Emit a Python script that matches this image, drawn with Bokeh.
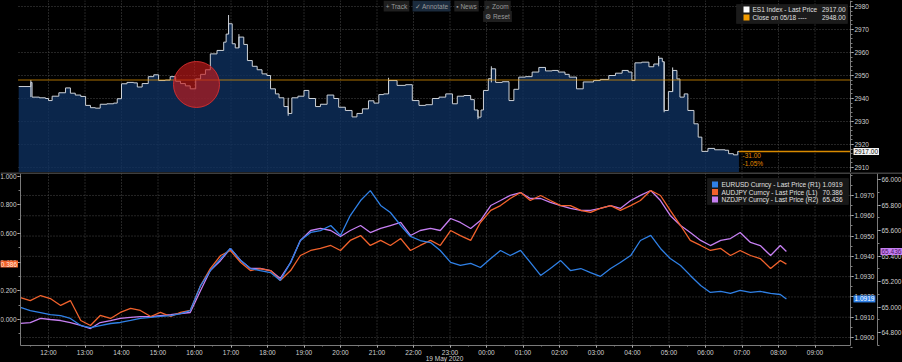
import numpy as np
import pandas as pd
from bokeh.plotting import figure
from bokeh.layouts import column
from bokeh.models import (Range1d, LinearAxis, DatetimeAxis, FixedTicker, Span, Label,
                          BoxAnnotation, DatetimeTickFormatter, CustomJSTickFormatter,
                          PrintfTickFormatter, GlobalInlineStyleSheet)
from bokeh.embed import file_html
from bokeh.resources import INLINE

# ---------------- data ----------------
es_time = ["05-18 11:11","05-18 11:31","05-18 11:33","05-18 11:45","05-18 11:55","05-18 12:00","05-18 12:06","05-18 12:17","05-18 12:28","05-18 12:36",
           "05-18 12:44","05-18 12:53","05-18 13:01","05-18 13:09","05-18 13:17","05-18 13:25","05-18 13:36","05-18 13:47","05-18 13:53","05-18 14:00",
           "05-18 14:09","05-18 14:20","05-18 14:26","05-18 14:34","05-18 14:44","05-18 14:53","05-18 15:01","05-18 15:12","05-18 15:20","05-18 15:29",
           "05-18 15:37","05-18 15:45","05-18 15:53","05-18 16:02","05-18 16:10","05-18 16:18","05-18 16:26","05-18 16:37","05-18 16:48","05-18 16:52",
           "05-18 16:56","05-18 17:02","05-18 17:07","05-18 17:13","05-18 17:21","05-18 17:27","05-18 17:35","05-18 17:43","05-18 17:51","05-18 17:59",
           "05-18 18:05","05-18 18:13","05-18 18:19","05-18 18:27","05-18 18:34","05-18 18:40","05-18 18:50","05-18 19:00","05-18 19:08","05-18 19:19",
           "05-18 19:27","05-18 19:38","05-18 19:49","05-18 19:57","05-18 20:08","05-18 20:19","05-18 20:27","05-18 20:36","05-18 20:46","05-18 20:55",
           "05-18 21:03","05-18 21:11","05-18 21:19","05-18 21:33","05-18 21:47","05-18 21:58","05-18 22:09","05-18 22:20","05-18 22:31","05-18 22:42",
           "05-18 22:53","05-18 23:04","05-18 23:12","05-18 23:23","05-18 23:34","05-18 23:40","05-18 23:46","05-18 23:51","05-18 23:55","05-19 00:03",
           "05-19 00:08","05-19 00:15","05-19 00:26","05-19 00:37","05-19 00:45","05-19 00:53","05-19 01:04","05-19 01:15","05-19 01:26","05-19 01:37",
           "05-19 01:48","05-19 01:58","05-19 02:09","05-19 02:16","05-19 02:28","05-19 02:39","05-19 02:56","05-19 03:07","05-19 03:21","05-19 03:32",
           "05-19 03:43","05-19 03:53","05-19 03:59","05-19 04:04","05-19 04:15","05-19 04:27","05-19 04:35","05-19 04:43","05-19 04:49","05-19 04:52",
           "05-19 04:59","05-19 05:06","05-19 05:13","05-19 05:18","05-19 05:25","05-19 05:31","05-19 05:41","05-19 05:48","05-19 05:54","05-19 06:04",
           "05-19 06:15","05-19 06:32","05-19 06:38","05-19 06:46","05-19 06:53","05-19 06:55"]
es_price = [2945.2, 2947.0, 2940.6, 2940.3, 2940.0, 2939.1, 2941.0, 2942.5, 2944.6, 2942.3,
            2941.5, 2940.9, 2937.0, 2936.0, 2935.8, 2937.5, 2937.7, 2938.0, 2939.9, 2946.4,
            2947.0, 2946.8, 2945.0, 2946.5, 2949.5, 2950.3, 2947.8, 2948.0, 2949.5, 2947.5,
            2946.5, 2945.5, 2944.2, 2948.5, 2950.5, 2952.5, 2959.4, 2960.9, 2964.5, 2968.0,
            2972.5, 2963.8, 2962.0, 2966.7, 2963.5, 2956.5, 2954.0, 2952.5, 2950.7, 2950.0,
            2944.2, 2942.0, 2940.3, 2936.5, 2933.5, 2940.3, 2941.0, 2943.5, 2940.0, 2936.5,
            2937.5, 2941.5, 2940.0, 2936.2, 2934.8, 2932.0, 2933.5, 2935.5, 2939.0, 2938.0,
            2941.7, 2942.0, 2947.8, 2945.7, 2946.0, 2939.1, 2937.0, 2937.3, 2940.0, 2940.6,
            2942.0, 2937.7, 2941.0, 2941.3, 2939.5, 2935.0, 2931.9, 2935.0, 2943.5, 2948.6,
            2952.9, 2947.0, 2947.3, 2939.1, 2944.0, 2949.3, 2949.5, 2951.5, 2953.5, 2952.0,
            2952.2, 2951.5, 2950.5, 2949.3, 2944.2, 2947.2, 2947.8, 2948.3, 2950.0, 2951.0,
            2952.2, 2951.5, 2947.8, 2955.5, 2955.8, 2953.8, 2955.0, 2957.5, 2956.0, 2934.8,
            2943.0, 2952.2, 2948.5, 2940.6, 2942.0, 2934.8, 2929.0, 2923.2, 2917.0, 2918.3,
            2917.7, 2917.5, 2916.0, 2915.5, 2917.0, 2917.0]
# a few visible bar wicks (time, low, high)
es_wick_time = ["05-18 11:31", "05-18 16:56", "05-18 17:13", "05-18 18:34", "05-18 21:19",
                "05-18 23:46", "05-19 00:08", "05-19 04:43", "05-19 04:52", "05-19 05:06"]
es_wick_low = [2940.6, 2968.0, 2962.0, 2932.5, 2942.0, 2931.0, 2947.0, 2954.0, 2934.0, 2943.0]
es_wick_high = [2948.0, 2976.3, 2968.0, 2940.3, 2949.0, 2935.0, 2954.0, 2958.5, 2956.0, 2953.5]
es_prev_close = 2948.0
es_last = 2917.0

fx_time = ["05-18 11:14","05-18 11:30","05-18 11:47","05-18 12:03","05-18 12:20","05-18 12:36","05-18 12:53","05-18 13:09","05-18 13:25","05-18 13:42",
           "05-18 13:58","05-18 14:15","05-18 14:31","05-18 14:48","05-18 15:04","05-18 15:21","05-18 15:37","05-18 15:53","05-18 16:10","05-18 16:26",
           "05-18 16:43","05-18 16:59","05-18 17:16","05-18 17:32","05-18 17:48","05-18 18:05","05-18 18:21","05-18 18:38","05-18 18:54","05-18 19:11",
           "05-18 19:27","05-18 19:44","05-18 20:00","05-18 20:16","05-18 20:33","05-18 20:49","05-18 21:06","05-18 21:22","05-18 21:39","05-18 21:55",
           "05-18 22:11","05-18 22:28","05-18 22:44","05-18 23:01","05-18 23:17","05-18 23:34","05-18 23:50","05-19 00:07","05-19 00:23","05-19 00:39",
           "05-19 00:56","05-19 01:12","05-19 01:29","05-19 01:45","05-19 02:02","05-19 02:18","05-19 02:35","05-19 02:51","05-19 03:07","05-19 03:24",
           "05-19 03:40","05-19 03:57","05-19 04:13","05-19 04:30","05-19 04:46","05-19 05:02","05-19 05:19","05-19 05:35","05-19 05:52","05-19 06:08",
           "05-19 06:25","05-19 06:41","05-19 06:57","05-19 07:14","05-19 07:30","05-19 07:47","05-19 08:03","05-19 08:13"]
eurusd = [1.09148, 1.09133, 1.09123, 1.09113, 1.09108, 1.09094, 1.09059, 1.09049, 1.09059, 1.09069,
          1.09074, 1.09084, 1.09094, 1.09099, 1.09104, 1.09108, 1.09118, 1.09133, 1.09256, 1.09330,
          1.09389, 1.09439, 1.09379, 1.09340, 1.09330, 1.09320, 1.09281, 1.09370, 1.09478, 1.09518,
          1.09527, 1.09552, 1.09503, 1.09601, 1.09675, 1.09724, 1.09651, 1.09616, 1.09552, 1.09498,
          1.09478, 1.09468, 1.09429, 1.09370, 1.09355, 1.09365, 1.09345, 1.09389, 1.09429, 1.09404,
          1.09429, 1.09370, 1.09306, 1.09340, 1.09379, 1.09330, 1.09340, 1.09320, 1.09301, 1.09340,
          1.09370, 1.09404, 1.09478, 1.09503, 1.09439, 1.09389, 1.09355, 1.09306, 1.09256, 1.09222,
          1.09227, 1.09217, 1.09232, 1.09222, 1.09227, 1.09217, 1.09212, 1.09190]
audjpy = [70.153, 70.132, 70.167, 70.146, 70.098, 70.132, 69.993, 69.958, 70.028, 70.007,
          70.049, 70.077, 70.063, 70.021, 70.049, 70.021, 70.049, 70.063, 70.237, 70.355,
          70.446, 70.481, 70.397, 70.341, 70.355, 70.341, 70.272, 70.341, 70.446, 70.481,
          70.495, 70.516, 70.481, 70.551, 70.585, 70.516, 70.551, 70.516, 70.564, 70.481,
          70.516, 70.551, 70.516, 70.620, 70.585, 70.551, 70.676, 70.760, 70.794, 70.843,
          70.885, 70.829, 70.864, 70.829, 70.794, 70.794, 70.760, 70.746, 70.774, 70.794,
          70.760, 70.794, 70.829, 70.899, 70.864, 70.760, 70.655, 70.551, 70.516, 70.481,
          70.495, 70.446, 70.481, 70.446, 70.425, 70.355, 70.411, 70.386]
nzdjpy = [64.871, 64.878, 64.910, 64.902, 64.894, 64.878, 64.855, 64.831, 64.878, 64.894,
          64.910, 64.918, 64.925, 64.925, 64.933, 64.941, 64.949, 64.957, 65.129, 65.286,
          65.365, 65.459, 65.365, 65.302, 65.302, 65.286, 65.224, 65.349, 65.522, 65.600,
          65.616, 65.600, 65.553, 65.600, 65.639, 65.584, 65.616, 65.639, 65.663, 65.561,
          65.600, 65.616, 65.600, 65.694, 65.663, 65.616, 65.678, 65.796, 65.835, 65.875,
          65.898, 65.851, 65.851, 65.820, 65.796, 65.773, 65.757, 65.757, 65.773, 65.796,
          65.773, 65.835, 65.875, 65.914, 65.835, 65.718, 65.639, 65.584, 65.522, 65.482,
          65.522, 65.537, 65.584, 65.506, 65.482, 65.404, 65.482, 65.436]

es_ticks = [2910, 2920, 2930, 2940, 2950, 2960, 2970, 2980]
aud_ticks = [70.0, 70.2, 70.4, 70.6, 70.8, 71.0]
eur_ticks = [1.090, 1.091, 1.092, 1.093, 1.094, 1.095, 1.096, 1.097]
nzd_ticks = [64.8, 65.0, 65.2, 65.4, 65.6, 65.8, 66.0]

legend_top = [("ES1 Index - Last Price", "2917.00", "#ffffff"),
              ("Close on 05/18 ----", "2948.00", "#f29b00")]
legend_bot = [("EURUSD Curncy - Last Price (R1)", "1.0919", "#2f80e6"),
              ("AUDJPY Curncy - Last Price (L1)", "70.386", "#f2622c"),
              ("NZDJPY Curncy - Last Price (R2)", "65.436", "#c67ff2")]
C_EUR, C_AUD, C_NZD = "#2f80e6", "#f2622c", "#c67ff2"

# ---------------- helpers: reference-pixel placement ----------------
FONT = "Liberation Sans"
FS = "6.5px"
EPOCH = pd.Timestamp("1970-01-01")
BASE = pd.Timestamp("2020-05-18")

def ms(t):
    return (t - EPOCH) / pd.Timedelta(milliseconds=1)

def hx(px):
    return ms(BASE + pd.Timedelta(hours=12 + (px - 48) / 36.5))

def v_es(py):
    return 2980 - (py - 6) / 2.3

def v_aud(py):
    return 70 + (319 - py) / 143.5

def v_eur(py):
    return 1.09 + (337 - py) * 0.001 / 20.29

def v_nzd(py):
    return 64.8 + (332 - py) / 127.5

def to_ms(strs):
    return np.array([ms(t) for t in pd.to_datetime(["2020-" + s for s in strs])])

es_ms = to_ms(es_time)
es_v = np.array(es_price)
fx_ms = to_ms(fx_time)
wick_ms = to_ms(es_wick_time)

hour_ticks = [ms(t) for t in pd.date_range("2020-05-18 12:00", "2020-05-19 09:00", freq="1h")]
half_ticks = [ms(t) for t in pd.date_range("2020-05-18 11:30", "2020-05-19 09:30", freq="30min")]

GRID = "#4a4a4a"
TXT = "#d0d0d0"

def style_axis(ax):
    ax.axis_line_color = "#7a7a7a"
    ax.major_tick_line_color = "#e6e6e6"
    ax.major_tick_in = 0
    ax.major_tick_out = 3
    ax.minor_tick_line_color = "#808080"
    ax.minor_tick_in = 0
    ax.minor_tick_out = 2
    ax.major_label_text_color = TXT
    ax.major_label_text_font = FONT
    ax.major_label_text_font_size = FS
    ax.major_label_standoff = 1

def lab(fig, x, y, text, color="#e0e0e0", align="left", size=FS, baseline="middle", **kw):
    fig.add_layout(Label(x=x, y=y, text=text, text_color=color, text_align=align,
                         text_baseline=baseline, text_font=FONT, text_font_size=size, **kw))

xr = Range1d(hx(0), hx(902))
common = dict(output_backend="svg", toolbar_location=None, x_range=xr, x_axis_type="datetime",
              x_axis_location=None, y_axis_location=None,
              background_fill_color="black", border_fill_color="black",
              min_border=0, outline_line_color=None, width=902)

# ---------------- top panel: ES1 ----------------
top = figure(height=172, y_range=Range1d(v_es(172), v_es(0)), **common)
top.grid.visible = False

top.segment(x0=hour_ticks, x1=hour_ticks, y0=v_es(0), y1=v_es(172),
            line_color=GRID, line_dash="1 2")
top.segment(x0=hx(18), x1=hx(850), y0=es_ticks, y1=es_ticks, line_color=GRID, line_dash="1 2")

step_x = np.repeat(es_ms, 2)[1:]
step_y = np.repeat(es_v, 2)[:-1]
top.varea(x=step_x, y1=v_es(172), y2=step_y, fill_color="#0e3160", fill_alpha=0.78)
top.line(step_x, step_y, line_color="#cdd2d8", line_width=1)
top.segment(x0=wick_ms, x1=wick_ms, y0=es_wick_low, y1=es_wick_high, line_color="#cdd2d8", line_width=1)

top.segment(x0=hx(18), x1=hx(850), y0=es_prev_close, y1=es_prev_close,
            line_color="#e39400", line_dash="1 1", line_width=1.5)
top.segment(x0=es_ms[-1], x1=hx(850), y0=es_last, y1=es_last, line_color="#d98a00", line_width=1.5)

ax_t = LinearAxis(fixed_location=hx(850),
                  ticker=FixedTicker(ticks=es_ticks, minor_ticks=list(range(2908, 2984, 2))),
                  formatter=PrintfTickFormatter(format="%d"))
style_axis(ax_t)
top.add_layout(ax_t, "right")

# highlight circle
top.scatter([hx(196)], [v_es(84)], size=46, fill_color="#c41a1a", fill_alpha=0.65,
            line_color="#d93030", line_alpha=0.9)

chg = es_last - es_prev_close
lab(top, hx(742), v_es(155), f"{chg:.2f}", color="#e08a00")
lab(top, hx(742), v_es(163), f"{chg / es_prev_close * 100:.2f}%", color="#e08a00")

# last price tag on axis
lab(top, hx(853), es_last, f"{es_last:.2f}", color="#101010",
    background_fill_color="#f2f2f2", padding=1)

# legend box
top.add_layout(BoxAnnotation(left=hx(736), right=hx(847), top=v_es(4), bottom=v_es(23),
                             fill_color="#1c1c1c", fill_alpha=0.95, line_color="#2e2e2e"))
for i, (name, val, col) in enumerate(legend_top):
    yy = 9 + 8 * i
    top.add_layout(BoxAnnotation(left=hx(743), right=hx(749), top=v_es(yy - 3), bottom=v_es(yy + 3),
                                 fill_color=col, fill_alpha=1, line_color=None))
    lab(top, hx(752), v_es(yy), name)
    lab(top, hx(845), v_es(yy), val, align="right")

# toolbar buttons
for txt, cx, cy, bg in [("+ Track", 396, 5.5, "#1f1f1f"), ("\u2713 Annotate", 431, 5.5, "#1b2b3d"),
                        ("\u25aa News", 466, 5.5, "#1f1f1f"), ("\u2315 Zoom", 497, 5.5, "#1f1f1f"),
                        ("\u2699 Reset", 497, 16, "#1f1f1f")]:
    lab(top, hx(cx), v_es(cy), txt, color="#9a9a9a", align="center",
        background_fill_color=bg, padding=2)

# ---------------- bottom panel: FX ----------------
bot = figure(height=190, y_range=Range1d(v_aud(362), v_aud(172)), **common)
bot.extra_y_ranges = {"eur": Range1d(v_eur(362), v_eur(172)), "nzd": Range1d(v_nzd(362), v_nzd(172))}
bot.grid.visible = False

bot.add_layout(Span(location=v_aud(172.5), dimension="width", line_color="#555555", line_width=1.5))
bot.segment(x0=hour_ticks, x1=hour_ticks, y0=v_aud(345), y1=v_aud(173),
            line_color=GRID, line_dash="1 2")
bot.segment(x0=hx(20), x1=hx(850), y0=eur_ticks, y1=eur_ticks, y_range_name="eur",
            line_color=GRID, line_dash="1 2")

bot.line(fx_ms, nzdjpy, y_range_name="nzd", line_color=C_NZD, line_width=1.3)
bot.line(fx_ms, audjpy, line_color=C_AUD, line_width=1.3)
bot.line(fx_ms, eurusd, y_range_name="eur", line_color=C_EUR, line_width=1.3)

ax_l = LinearAxis(fixed_location=hx(20), bounds=(v_aud(345), v_aud(173)),
                  ticker=FixedTicker(ticks=aud_ticks, minor_ticks=[69.9 + 0.1 * i for i in range(12)]),
                  formatter=CustomJSTickFormatter(code="return (tick - 70).toFixed(3);"))
ax_eur = LinearAxis(y_range_name="eur", fixed_location=hx(850), bounds=(v_eur(345), v_eur(173)),
                    ticker=FixedTicker(ticks=eur_ticks, minor_ticks=[1.0895 + 0.0005 * i for i in range(18)]),
                    formatter=PrintfTickFormatter(format="%.4f"))
ax_nzd = LinearAxis(y_range_name="nzd", fixed_location=hx(877), bounds=(v_nzd(345), v_nzd(173)),
                    ticker=FixedTicker(ticks=nzd_ticks, minor_ticks=[64.7 + 0.1 * i for i in range(14)]),
                    formatter=PrintfTickFormatter(format="%.3f"))
ax_x = DatetimeAxis(fixed_location=v_aud(345), bounds=(hx(20), hx(850)),
                    ticker=FixedTicker(ticks=hour_ticks, minor_ticks=half_ticks),
                    formatter=DatetimeTickFormatter(hours="%H:%M", days="%H:%M", minutes="%H:%M"))
for a in (ax_l, ax_eur, ax_nzd, ax_x):
    style_axis(a)
ax_x.major_tick_out = 2
ax_x.minor_tick_out = 1
ax_x.major_label_standoff = 1
bot.add_layout(ax_l, "left")
bot.add_layout(ax_eur, "right")
bot.add_layout(ax_nzd, "right")
bot.add_layout(ax_x, "below")

# axis value tags
lab(bot, hx(17.5), audjpy[-1], f"{audjpy[-1] - 70:.3f}", color="#ffe6dc", align="right",
    background_fill_color=C_AUD, padding=1)
lab(bot, hx(853), eurusd[-1], f"{eurusd[-1]:.4f}", color="#ffffff",
    background_fill_color=C_EUR, padding=1, y_range_name="eur")
lab(bot, hx(880), nzdjpy[-1], f"{nzdjpy[-1]:.3f}", color="#4a1466",
    background_fill_color=C_NZD, padding=1, y_range_name="nzd")

# legend
bot.add_layout(BoxAnnotation(left=hx(707), right=hx(848), top=v_aud(178), bottom=v_aud(204),
                             fill_color="#191919", fill_alpha=0.95, line_color="#2a2a2a"))
for i, (name, val, col) in enumerate(legend_bot):
    yy = 184 + 7.5 * i
    bot.add_layout(BoxAnnotation(left=hx(711.5), right=hx(717.5), top=v_aud(yy - 3), bottom=v_aud(yy + 3),
                                 fill_color=col, fill_alpha=1, line_color=None))
    lab(bot, hx(721), v_aud(yy), name)
    lab(bot, hx(842), v_aud(yy), val, align="right")

lab(bot, hx(444), v_aud(358), "19 May 2020", color=TXT, align="center")

layout = column(top, bot, stylesheets=[GlobalInlineStyleSheet(css="html, body { background-color: #000000; }")])

open("out.html", "w").write(file_html(layout, INLINE))
